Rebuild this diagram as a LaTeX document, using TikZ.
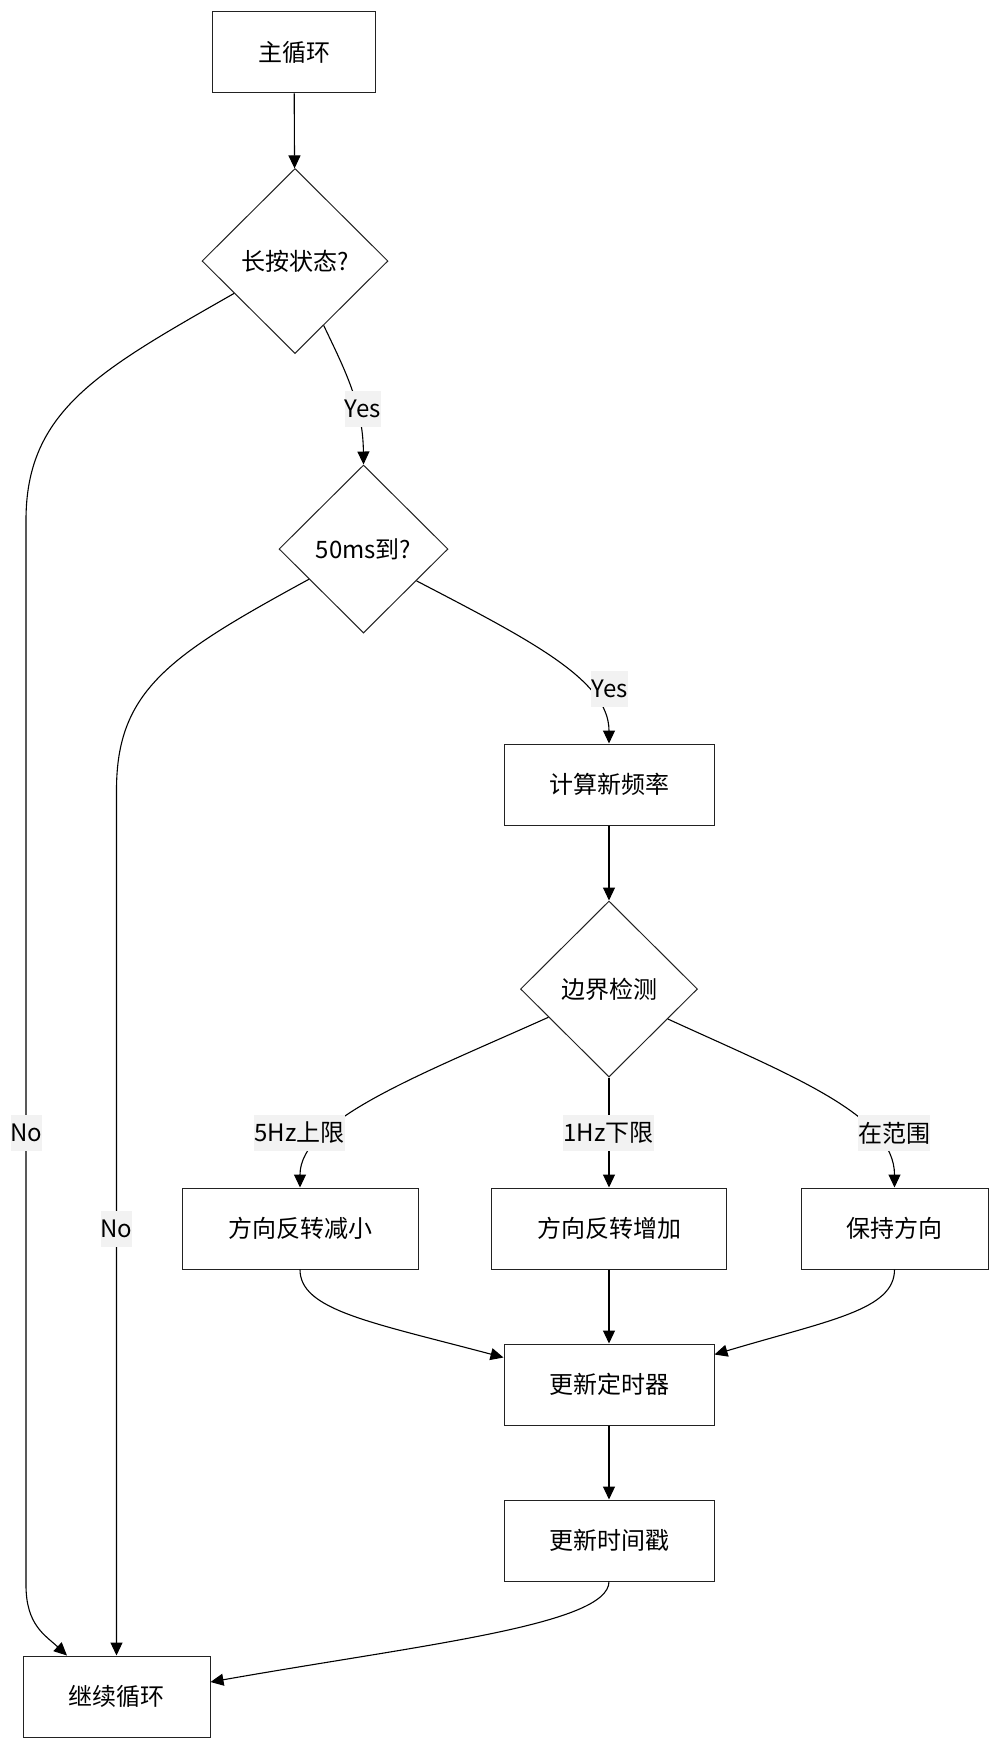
\documentclass[tikz,border=0pt]{standalone}
\usepackage{fontspec}
\setmainfont{Noto Sans CJK SC}
\usetikzlibrary{shapes.geometric,arrows.meta}
\definecolor{ln}{HTML}{222222}
\definecolor{lblbg}{HTML}{F2F2F2}
\tikzset{
  box/.style={draw=ln, line width=1.0pt, fill=white, minimum height=81pt, inner sep=0pt, font=\fontsize{24}{28}\selectfont},
  dec/.style={draw=ln, line width=1.0pt, fill=white, shape=diamond, inner sep=0pt, font=\fontsize{24}{28}\selectfont},
  lbl/.style={fill=lblbg, inner xsep=0pt, inner ysep=0pt, minimum height=36pt, font=\fontsize{24}{28}\selectfont},
  arr/.style={draw=black, line width=1.1pt, -{Triangle[length=13pt,width=12pt]}}
}
\begin{document}
\begin{tikzpicture}[x=1pt,y=-1pt]
\useasboundingbox (0,0) rectangle (999,1749);
% nodes
\node[box, minimum width=163pt] (start) at (294,52.3) {主循环};
\node[dec, minimum width=186pt, minimum height=185pt] (d1) at (295,261) {长按状态?};
\node[dec, minimum width=169pt, minimum height=168pt] (d2) at (363.5,549) {50ms到?};
\node[box, minimum width=210pt] (calc) at (609,784.5) {计算新频率};
\node[dec, minimum width=177pt, minimum height=176pt] (d3) at (609,989) {边界检测};
\node[box, minimum width=236pt] (dec5) at (300,1228.5) {方向反转减小};
\node[box, minimum width=235pt] (inc1) at (609,1228.5) {方向反转增加};
\node[box, minimum width=187pt] (keep) at (894.5,1228.5) {保持方向};
\node[box, minimum width=210pt] (timer) at (609,1384.5) {更新定时器};
\node[box, minimum width=210pt] (stamp) at (609,1540.5) {更新时间戳};
\node[box, minimum width=187pt] (cont) at (116.5,1696.5) {继续循环};
% edges
\draw[arr] (start) -- (d1);
\draw[arr] (d1.294.4) .. controls (345,370) and (363,405) .. (d2.north);
\draw[arr] (d1.208.4) .. controls (100,370) and (26,410) .. (26,520) -- (26,1585) .. controls (26,1625) and (45,1635) .. ([xshift=-49.5pt]cont.north);
\draw[arr] (d2.329.9) .. controls (530,640) and (609,680) .. (calc.north);
\draw[arr] (d2.209.6) .. controls (170,655) and (116.5,690) .. (116.5,790) -- (cont.north);
\draw[arr] (calc) -- (d3);
\draw[arr] (d3.205.2) .. controls (420,1075) and (300,1120) .. (dec5.north);
\draw[arr] (d3) -- (inc1);
\draw[arr] (d3.333.2) .. controls (790,1075) and (894.5,1115) .. (keep.north);
\draw[arr] (dec5.south) .. controls (300,1310) and (370,1322) .. ([yshift=27pt]timer.west);
\draw[arr] (inc1) -- (timer);
\draw[arr] (keep.south) .. controls (894.5,1310) and (830,1320) .. ([yshift=30pt]timer.east);
\draw[arr] (timer) -- (stamp);
\draw[arr] (stamp.south) .. controls (609,1625) and (420,1645) .. ([yshift=14.5pt]cont.east);
% labels
\node[lbl] (lyes1) at (363,409) {Yes};
\node[lbl] (lyes2) at (609.5,689) {Yes};
\node[lbl] (lno1) at (26.5,1133) {No};
\node[lbl] (lno2) at (116.5,1229) {No};
\node[lbl] (l5) at (299.5,1133) {5Hz上限};
\node[lbl] (l1) at (608.5,1133) {1Hz下限};
\node[lbl] (lin) at (894,1133) {在范围};
\end{tikzpicture}
\end{document}
